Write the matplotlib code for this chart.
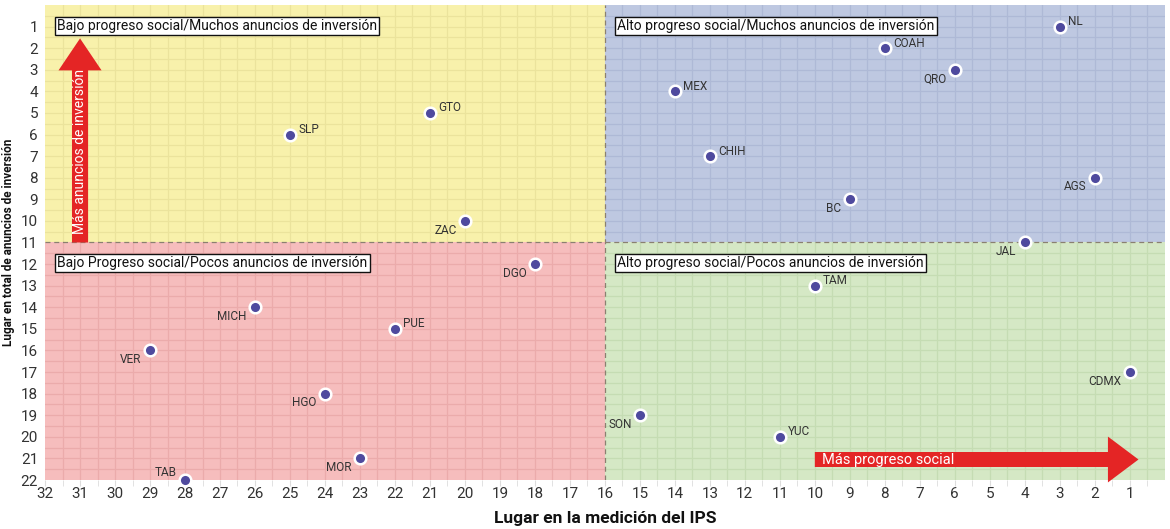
import matplotlib
matplotlib.use("Agg")
import matplotlib.pyplot as plt
from matplotlib.patches import Rectangle

plt.rcParams['font.family'] = ['Roboto', 'DejaVu Sans']

states = ["NL", "COAH", "QRO", "MEX", "GTO", "SLP", "CHIH", "AGS", "BC", "ZAC", "JAL",
          "DGO", "TAM", "MICH", "PUE", "VER", "CDMX", "HGO", "SON", "YUC", "MOR", "TAB"]
ips_rank = [3, 8, 6, 14, 21, 25, 13, 2, 9, 20, 4,
            18, 10, 26, 22, 29, 1, 24, 15, 11, 23, 28]
inv_rank = [1, 2, 3, 4, 5, 6, 7, 8, 9, 10, 11,
            12, 13, 14, 15, 16, 17, 18, 19, 20, 21, 22]
# label placement: 'ur' = upper right, 'll' = lower left, 'ul' = upper left
label_pos = ["ur", "ur", "ll", "ur", "ur", "ur", "ur", "ll", "ll", "ll", "ll",
             "ll", "ur", "ll", "ur", "ll", "ll", "ll", "ll", "ur", "ll", "ul"]

x_ticks = list(range(32, 0, -1))
y_ticks = list(range(1, 23))

quadrant_titles = ["Bajo progreso social/Muchos anuncios de inversión",
                   "Alto progreso social/Muchos anuncios de inversión",
                   "Bajo Progreso social/Pocos anuncios de inversión",
                   "Alto progreso social/Pocos anuncios de inversión"]

fig = plt.figure(figsize=(11.7, 5.29), dpi=100)
ax = fig.add_axes([0.0385, 0.0926, 0.957, 0.898])
ax.set_xlim(32, 0)
ax.set_ylim(22, 0)

# quadrant backgrounds
quads = [((16, 0), 16, 11, '#f8f1ab', '#ebe39c'),
         ((0, 0), 16, 11, '#bec8e1', '#aeb9d6'),
         ((16, 11), 16, 11, '#f6bdbd', '#ebabab'),
         ((0, 11), 16, 11, '#d5e8c5', '#c5dcb3')]
for (x0, y0), w, h, fc, gc in quads:
    ax.add_patch(Rectangle((x0, y0), w, h, facecolor=fc, edgecolor='none', zorder=0))
    gx = [x0 + 0.5 * i for i in range(1, int(w * 2))]
    gy = [y0 + 0.5 * i for i in range(1, int(h * 2))]
    for g in gx:
        ax.plot([g, g], [y0, y0 + h], color=gc, lw=0.9, zorder=1)
    for g in gy:
        ax.plot([x0, x0 + w], [g, g], color=gc, lw=0.9, zorder=1)

ax.axvline(16, color='#8a8070', lw=0.9, ls=(0, (4, 3)), zorder=2)
ax.axhline(11, color='#8a8070', lw=0.9, ls=(0, (4, 3)), zorder=2)

# quadrant titles
title_pos = [(31.65, 0.96), (15.65, 0.96), (31.65, 11.96), (15.65, 11.96)]
for (tx, ty), t in zip(title_pos, quadrant_titles):
    ax.text(tx, ty, t, ha='left', va='center', fontsize=10, color='#111111',
            bbox=dict(boxstyle='square,pad=0.15', fc='white', ec='#111111', lw=1.0), zorder=6)

# arrows
ax.annotate('', xy=(31, 1.55), xytext=(31, 11),
            arrowprops=dict(arrowstyle='simple,head_length=1.15,head_width=1.55,tail_width=0.58',
                            color='#e42525', lw=0, shrinkA=0, shrinkB=0, mutation_scale=20), zorder=4)
ax.text(31, 6.8, 'Más anuncios de inversión', rotation=90, ha='center', va='center',
        color='white', fontsize=10, zorder=5)
ax.annotate('', xy=(0.75, 21.05), xytext=(10, 21.05),
            arrowprops=dict(arrowstyle='simple,head_length=1.1,head_width=1.65,tail_width=0.54',
                            color='#e42525', lw=0, shrinkA=0, shrinkB=0, mutation_scale=20), zorder=4)
ax.text(9.8, 21.05, 'Más progreso social', ha='left', va='center', color='white', fontsize=10.5, zorder=5)

# points
ax.scatter(ips_rank, inv_rank, s=70, color='#4f4a9e', edgecolor='white', linewidth=1.8,
           zorder=7, clip_on=False)
offs = {'ur': (6, -1, 'left', 'bottom'), 'll': (-6, -2, 'right', 'top'), 'ul': (-6, 1, 'right', 'bottom')}
for s, x, y, p in zip(states, ips_rank, inv_rank, label_pos):
    dx, dy, ha, va = offs[p]
    ax.annotate(s, (x, y), xytext=(dx, dy), textcoords='offset points', ha=ha, va=va,
                fontsize=8.5, color='#333333', zorder=8)

ax.set_xticks(x_ticks)
ax.set_xticklabels([str(v) for v in x_ticks])
ax.set_yticks(y_ticks)
ax.set_yticklabels([str(v) for v in y_ticks])
ax.set_xticks([v + 0.5 for v in range(0, 32)], minor=True)
ax.tick_params(axis='x', which='both', length=4, color='#dddddd', labelsize=11,
               labelcolor='#333333', pad=1)
ax.tick_params(axis='y', which='both', length=0, labelsize=11, labelcolor='#333333', pad=5)
for sp in ax.spines.values():
    sp.set_visible(False)

ax.set_xlabel('Lugar en la medición del IPS', fontsize=12.5, fontweight='bold', color='#111111', labelpad=7)
ax.set_ylabel('Lugar en total de anuncios de inversión', fontsize=8.5, fontweight='bold', color='#111111', labelpad=4)

fig.savefig('out.png', dpi=100)
